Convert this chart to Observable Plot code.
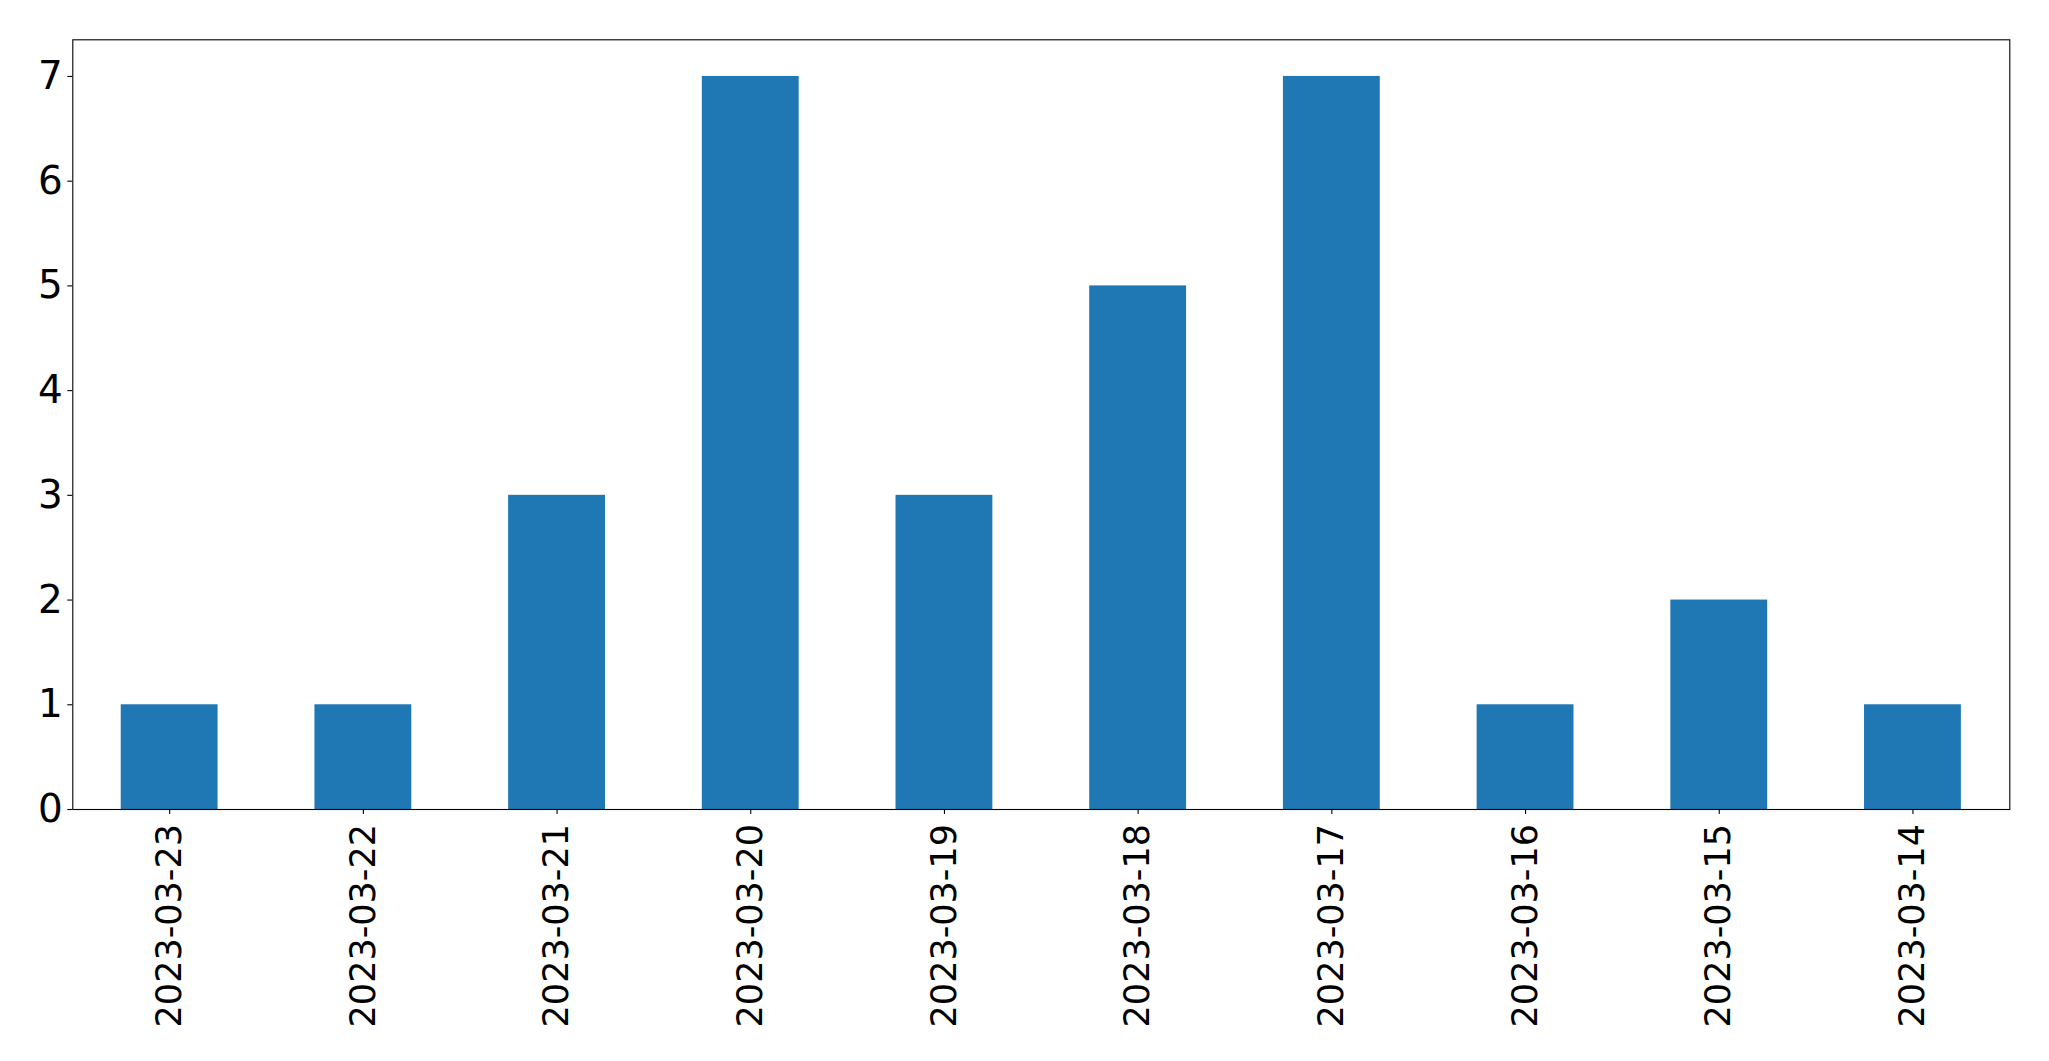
<!DOCTYPE html>
<html>
<head>
<meta charset="utf-8">
<script src="https://cdn.jsdelivr.net/npm/d3@7"></script>
<script src="https://cdn.jsdelivr.net/npm/@observablehq/plot@0.6"></script>
<style>
  html, body { margin: 0; padding: 0; background: #fff; }
  svg { display: block; }
</style>
</head>
<body>
<div id="chart"></div>
<script>
const dates = ["2023-03-23", "2023-03-22", "2023-03-21", "2023-03-20", "2023-03-19", "2023-03-18", "2023-03-17", "2023-03-16", "2023-03-15", "2023-03-14"];
const counts = [1, 1, 3, 7, 3, 5, 7, 1, 2, 1];
const yTicks = [0, 1, 2, 3, 4, 5, 6, 7];

const data = dates.map((d, i) => ({date: d, count: counts[i]}));

const chart = Plot.plot({
  width: 2049,
  height: 1061,
  marginLeft: 72.3,
  marginRight: 39.7,
  marginTop: 39.3,
  marginBottom: 252,
  style: {fontFamily: "DejaVu Sans", fontSize: "34.7px", color: "#000", background: "#fff"},
  x: {domain: dates, paddingInner: 0.5, paddingOuter: 0.25, align: 0.5, round: false, label: null},
  y: {domain: [0, 7.35], label: null},
  marks: [
    Plot.barY(data, {x: "date", y: "count", fill: "#1f77b4"}),
    Plot.frame({stroke: "#000", strokeWidth: 1.1}),
    Plot.axisY({ticks: yTicks, tickSize: 5, tickPadding: 5, tickFormat: d => String(d), label: null, fontSize: 38.9, stroke: "#000", strokeWidth: 1.1}),
    Plot.axisX({tickSize: 5, tickPadding: 9.5, tickRotate: -90, label: null, fontSize: 35, stroke: "#000", strokeWidth: 1.1})
  ]
});
document.getElementById("chart").appendChild(chart);
</script>
</body>
</html>
